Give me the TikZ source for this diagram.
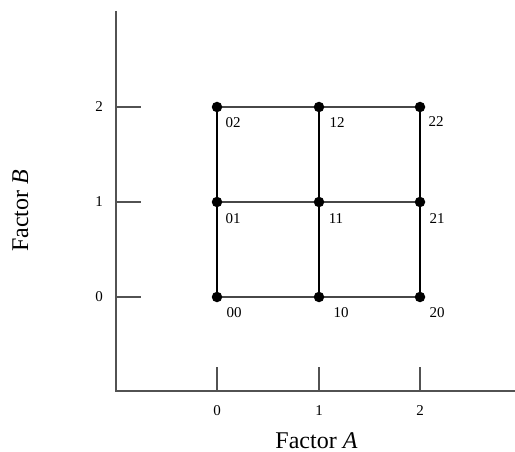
\documentclass[tikz,border=0pt]{standalone}
\usepackage{fontspec}
\setmainfont{Liberation Serif}
\tikzset{
  axisline/.style={draw=black!68, line width=1.5pt},
  hline/.style={draw=black!72, line width=1.5pt},
  vline/.style={draw=black, line width=2pt},
  dot/.style={circle, fill=black, inner sep=0pt, minimum size=10.5pt},
  ticklab/.style={font=\fontsize{15}{17}\selectfont, inner sep=0pt},
  ptlab/.style={font=\fontsize{15}{17}\selectfont, inner sep=0pt},
  title/.style={font=\fontsize{24}{28}\selectfont, inner sep=0pt, anchor=base}
}
\begin{document}
\begin{tikzpicture}[x=1pt,y=-1pt]
\useasboundingbox (0,0) rectangle (515,452);
% axes
\coordinate (o) at (116,391);
\coordinate (ytop) at (116,11);
\coordinate (xend) at (515,391);
\draw[axisline] (ytop) -- (o) -- (xend);
% y ticks
\foreach \v/\yy in {0/297,1/202,2/107}{
  \coordinate (yt\v) at (116,\yy);
  \coordinate (ye\v) at (141,\yy);
  \draw[axisline] (yt\v) -- (ye\v);
  \node[ticklab] (yl\v) at (99,\yy) {\v};
}
% x ticks
\foreach \v/\xx in {0/217,1/319,2/420}{
  \coordinate (xt\v) at (\xx,391);
  \coordinate (xe\v) at (\xx,367);
  \draw[axisline] (xt\v) -- (xe\v);
  \node[ticklab] (xl\v) at (\xx,411) {\v};
}
% grid points
\foreach \i/\xx in {0/217,1/319,2/420}{
  \foreach \j/\yy in {0/297,1/202,2/107}{
    \coordinate (p\i\j) at (\xx,\yy);
  }
}
% horizontal lines
\foreach \j in {0,1,2}{
  \draw[hline] (p0\j) -- (p1\j) -- (p2\j);
}
% vertical lines
\foreach \i in {0,1,2}{
  \draw[vline] (p\i0) -- (p\i1) -- (p\i2);
}
% dots
\foreach \i in {0,1,2}{
  \foreach \j in {0,1,2}{
    \node[dot] (d\i\j) at (p\i\j) {};
  }
}
% point labels
\node[ptlab] (l02) at (233,122.5) {02};
\node[ptlab] (l12) at (337,123) {12};
\node[ptlab] (l22) at (436,122) {22};
\node[ptlab] (l01) at (233,219) {01};
\node[ptlab] (l11) at (336,219) {11};
\node[ptlab] (l21) at (437,219) {21};
\node[ptlab] (l00) at (234,313) {00};
\node[ptlab] (l10) at (341,313) {10};
\node[ptlab] (l20) at (437,313) {20};
% titles
\node[title] (ta) at (316.5,448) {Factor \textit{A}};
\node[title, rotate=90] (tb) at (28,211) {Factor \textit{B}};
\end{tikzpicture}
\end{document}
